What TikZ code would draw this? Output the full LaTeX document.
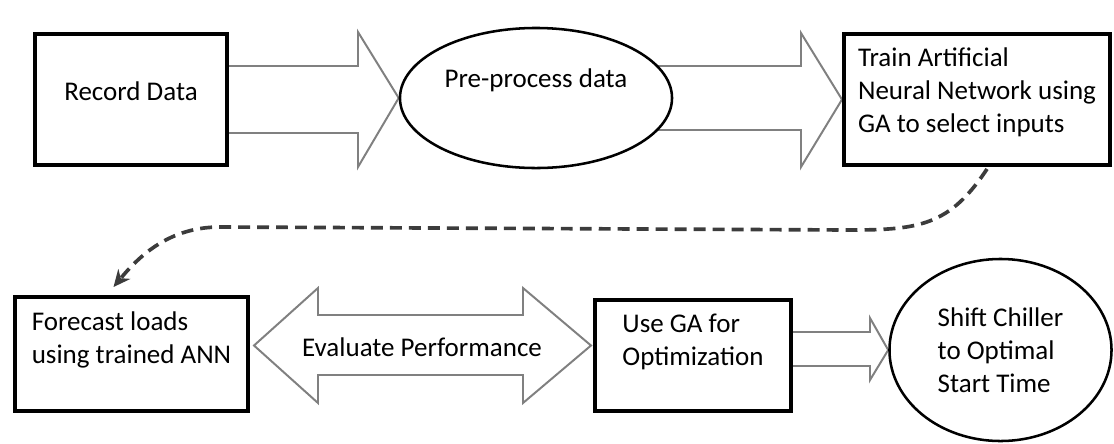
\documentclass[tikz,border=0pt]{standalone}
\usepackage{fontspec}
\setmainfont{Carlito}
\usetikzlibrary{calc,arrows.meta,shapes.geometric,backgrounds}

\definecolor{arrowgray}{RGB}{128,128,128}
\definecolor{dashgray}{RGB}{60,60,60}

\tikzset{
	stepfont/.style={font=\fontsize{19.2}{23.5}\selectfont},
	stepbox/.style={stepfont, draw=black, line width=2.8pt, fill=white, inner sep=2pt, align=left},
	stepoval/.style={stepfont, ellipse, draw=black, line width=1.8pt, fill=white, inner sep=1pt, align=left},
	blockarrow/.style={draw=arrowgray, line width=1.4pt, fill=white, line join=miter},
	flowdash/.style={draw=dashgray, line width=2.6pt, dash pattern=on 8.5pt off 5pt, -{Stealth[length=12pt,width=11pt]}},
	lift/.style={execute at end node={\rule[-#1]{0pt}{#1}}},
}

\begin{document}
\begin{tikzpicture}[x=0.025cm, y=-0.025cm]
		\useasboundingbox (0,0) rectangle (1114,443);

		% upper row
		\node[stepbox, minimum width=4.8cm, minimum height=3.275cm, lift=0.4cm] (rec) at (131,99.5) {Record Data};
		\node[stepoval, minimum width=6.8cm, minimum height=3.5cm, lift=1cm] (pre) at (536,98) {Pre-process data};
		\node[stepbox, minimum width=6.65cm, minimum height=3.275cm, lift=0.45cm] (train) at (977,99.5) {Train Artificial\\Neural Network using\\GA to select inputs};

		% lower row
		\node[stepbox, minimum width=5.825cm, minimum height=2.85cm, lift=0.825cm] (fcst) at (131.5,354) {Forecast loads\\using trained ANN};
		\node[stepbox, minimum width=4.9cm, minimum height=2.775cm, lift=0.8cm] (usega) at (693,355.5) {Use GA for\\Optimization};
		\node[stepoval, minimum width=5.55cm, minimum height=4.55cm] (shift) at (1000.5,350) {Shift Chiller\\to Optimal\\Start Time};
		\node[stepfont] (evaltxt) at (422,347) {Evaluate Performance};

		\begin{scope}[on background layer]
			\draw[blockarrow] ($(rec.center)+(0,-33.5)$) -- (358,66) -- (358,32) -- (pre.west) -- (358,167) -- (358,133) -- ($(rec.center)+(0,33.5)$);
			\draw[blockarrow] ($(pre.center)+(0,-32)$) -- (801,66) -- (801,33) -- (train.west) -- (801,167) -- (801,130) -- ($(pre.center)+(0,32)$);
			\draw[blockarrow] ($(fcst.east)+(4,-8.5)$) -- (318,288) -- (318,315) -- (523,315) -- (523,288) -- ($(usega.west)+(-2,-10)$) -- (523,403) -- (523,375) -- (318,375) -- (318,403) -- cycle;
			\draw[blockarrow] ($(usega.center)+(0,-23.5)$) -- (870,332) -- (870,318) -- (shift.west) -- (870,380) -- (870,366) -- ($(usega.center)+(0,10.5)$);
		\end{scope}

		% feedback to the lower row
		\draw[flowdash] ($(train.south)+(10,2)$) .. controls (950,225) and (920,230) .. (850,230) -- (220,227) .. controls (170,227) and (140,255) .. ($(fcst.north)+(-18,-8)$);
	\end{tikzpicture}
\end{document}
